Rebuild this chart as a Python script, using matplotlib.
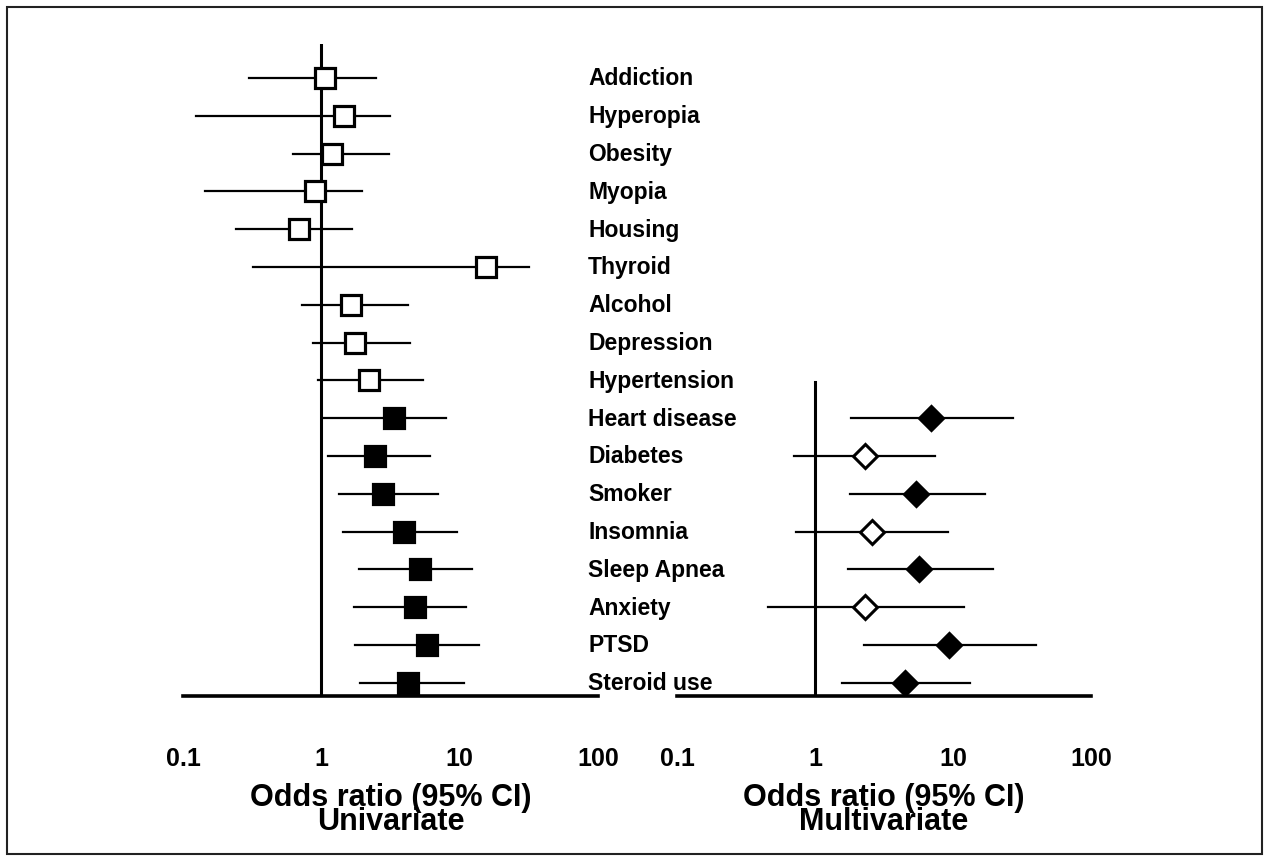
import numpy as np
import matplotlib.pyplot as plt
from matplotlib.transforms import blended_transform_factory
from matplotlib.patches import Rectangle

plt.rcParams['font.family'] = ['Liberation Sans', 'DejaVu Sans']
plt.rcParams['font.weight'] = 'bold'

# Univariate odds ratios (all factors)
factors = ['Addiction', 'Hyperopia', 'Obesity', 'Myopia', 'Housing', 'Thyroid',
           'Alcohol', 'Depression', 'Hypertension', 'Heart disease', 'Diabetes',
           'Smoker', 'Insomnia', 'Sleep Apnea', 'Anxiety', 'PTSD', 'Steroid use']
uni_or = [1.07, 1.47, 1.2, 0.9, 0.69, 15.5, 1.65, 1.76, 2.22, 3.37, 2.45,
          2.8, 3.97, 5.2, 4.77, 5.8, 4.25]
uni_lo = [0.30, 0.125, 0.62, 0.145, 0.24, 0.32, 0.73, 0.875, 0.95, 1.05, 1.12,
          1.35, 1.44, 1.88, 1.73, 1.76, 1.91]
uni_hi = [2.5, 3.15, 3.1, 1.98, 1.67, 31.7, 4.2, 4.4, 5.45, 8.0, 6.1,
          7.0, 9.6, 12.3, 11.1, 13.8, 10.8]
uni_sig = [False] * 9 + [True] * 8

# Multivariate odds ratios (last 8 factors)
multi_factors = ['Heart disease', 'Diabetes', 'Smoker', 'Insomnia',
                 'Sleep Apnea', 'Anxiety', 'PTSD', 'Steroid use']
multi_or = [6.9, 2.3, 5.4, 2.6, 5.66, 2.3, 9.35, 4.5]
multi_lo = [1.82, 0.70, 1.79, 0.73, 1.73, 0.46, 2.26, 1.57]
multi_hi = [27.2, 7.4, 17.1, 9.2, 19.5, 12.0, 40.0, 13.3]
multi_sig = [True, False, True, False, True, False, True, True]

W, H = 1269, 862
fig = plt.figure(figsize=(W / 100, H / 100), dpi=100)

# frame around the figure
fig.patches.append(Rectangle((7 / W, 7 / H), 1 - 14 / W, 1 - 15 / H,
                             transform=fig.transFigure, fill=False,
                             edgecolor='#222222', linewidth=1.5))

y_top, y_bot = 45, 697
row0, step = 79, 37.8
ymin = (y_top - row0) / step
ymax = (y_bot - row0) / step


def make_axes(x0, x1):
    ax = fig.add_axes([x0 / W, 1 - y_bot / H, (x1 - x0) / W, (y_bot - y_top) / H])
    ax.patch.set_visible(False)
    ax.set_xscale('log')
    ax.set_xlim(0.1, 100)
    ax.set_ylim(ymax, ymin)
    for s in ['top', 'right', 'left']:
        ax.spines[s].set_visible(False)
    ax.spines['bottom'].set_linewidth(2.6)
    ax.set_yticks([])
    ax.set_xticks([0.1, 1, 10, 100])
    ax.set_xticklabels(['0.1', '1', '10', '100'], fontsize=18, fontweight='bold')
    ax.minorticks_off()
    ax.tick_params(axis='x', length=0, pad=36)
    return ax


# left panel
ax1 = make_axes(183, 598)
rows = np.arange(len(factors))
ax1.plot([1, 1], [ymin, ymax], color='black', lw=2.2, zorder=2)
for r, o, lo, hi, sig in zip(rows, uni_or, uni_lo, uni_hi, uni_sig):
    ax1.plot([lo, hi], [r, r], color='black', lw=1.6, zorder=3)
    ax1.plot(o, r, marker='s', markersize=14.5, markeredgewidth=2.3,
             markeredgecolor='black', markerfacecolor='black' if sig else 'white',
             zorder=4)
tr = blended_transform_factory(ax1.transAxes, ax1.transData)
for r, name in zip(rows, factors):
    ax1.text(0.976, r, name, transform=tr, ha='left', va='center',
             fontsize=16.5, fontweight='bold', clip_on=False)

# right panel
ax2 = make_axes(677, 1091)
mrows = [factors.index(f) for f in multi_factors]
ax2.plot([1, 1], [(383 - row0) / step, ymax], color='black', lw=2.2, zorder=2)
for r, o, lo, hi, sig in zip(mrows, multi_or, multi_lo, multi_hi, multi_sig):
    ax2.plot([lo, hi], [r, r], color='black', lw=1.6, zorder=3)
    ax2.plot(o, r, marker='D', markersize=12, markeredgewidth=2.2,
             markeredgecolor='black', markerfacecolor='black' if sig else 'white',
             zorder=4)

# axis titles (two tightly spaced lines)
for ax, sub in [(ax1, 'Univariate'), (ax2, 'Multivariate')]:
    ax.text(0.5, -(810 - y_bot) / (y_bot - y_top), 'Odds ratio (95% CI)\n' + sub,
            transform=ax.transAxes, ha='center', va='center',
            multialignment='center', linespacing=0.72,
            fontsize=22, fontweight='bold')

fig.savefig('out.png', dpi=100)
